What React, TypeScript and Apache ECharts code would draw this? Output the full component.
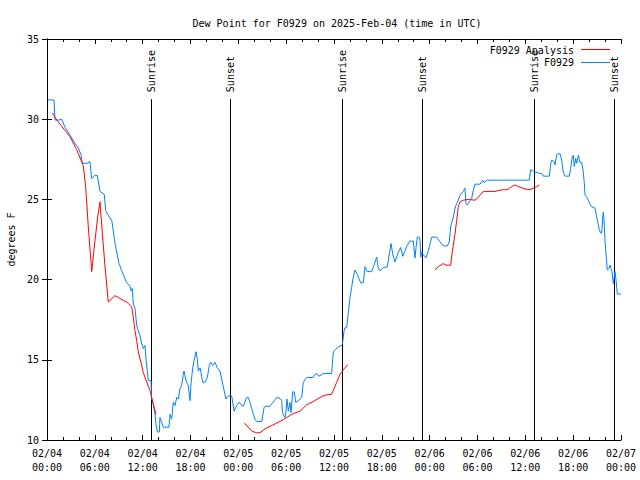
import React, { useEffect, useRef } from "react";
import * as echarts from "echarts";

const TITLE = "Dew Point for F0929 on 2025-Feb-04 (time in UTC)";
const Y_NAME = "degrees F";
const DAY_LABELS = ["02/04", "02/05", "02/06", "02/07"];

// F0929 observations: hours since 02/04 00:00 UTC, dew point (F)
const obsHours = [
  0.13, 0.88, 1.0, 1.5, 1.84, 2.26, 2.89, 3.51, 3.93, 4.26, 4.43, 5.02, 5.39, 5.61, 6.02, 6.31, 6.65, 7.19, 7.36, 7.69,
  8.12, 8.53, 9.03, 9.57, 10.0, 10.41, 10.54, 10.7, 10.83, 11.04, 11.25, 11.45, 11.67, 11.88, 12.08, 12.29, 12.42, 12.58, 12.71, 13.05,
  13.13, 13.33, 13.55, 13.67, 13.84, 14.09, 14.17, 14.39, 14.59, 15.3, 15.43, 15.64, 15.84, 16.06, 16.27, 16.47, 16.68, 16.89, 17.1, 17.19,
  17.4, 17.52, 17.72, 17.94, 18.06, 18.28, 18.44, 18.69, 18.85, 18.98, 19.19, 19.32, 19.53, 19.82, 20.11, 20.36, 20.53, 20.79, 21.07, 21.36,
  21.7, 21.91, 22.12, 22.45, 22.74, 23.17, 23.46, 23.8, 24.12, 24.42, 24.62, 25.05, 25.25, 25.46, 25.68, 25.88, 26.09, 26.3, 26.93, 27.22,
  27.35, 27.97, 28.19, 28.51, 28.81, 29.23, 29.44, 29.52, 29.64, 29.85, 29.98, 30.1, 30.27, 30.48, 30.61, 30.82, 31.02, 31.2, 31.52, 31.95,
  32.15, 32.58, 33.4, 33.62, 33.83, 34.03, 34.24, 34.66, 35.71, 35.91, 36.13, 36.54, 36.97, 37.09, 37.26, 37.38, 37.59, 37.79, 38.01, 38.22,
  38.42, 38.63, 38.85, 39.05, 39.35, 39.68, 39.89, 40.18, 40.73, 41.02, 41.36, 41.56, 41.77, 42.19, 42.69, 42.94, 43.15, 43.36, 43.65, 44.07,
  44.37, 44.62, 44.91, 45.2, 45.53, 45.95, 46.16, 46.29, 46.45, 46.7, 46.79, 46.88, 47.0, 47.2, 47.54, 47.83, 48.26, 48.88, 49.3, 49.71,
  50.21, 50.46, 50.64, 50.8, 50.97, 51.18, 51.39, 51.59, 51.81, 52.02, 52.22, 52.43, 52.56, 52.72, 52.97, 53.27, 53.48, 53.69, 54.32, 54.53,
  54.65, 54.82, 55.23, 60.5, 60.67, 61.0, 61.63, 62.05, 62.26, 63.01, 63.18, 63.31, 63.6, 63.72, 63.94, 64.35, 64.56, 64.76, 64.98, 65.52,
  65.69, 65.89, 66.02, 66.14, 66.32, 66.44, 66.65, 66.86, 67.07, 67.27, 67.4, 67.49, 67.7, 67.9, 68.11, 68.33, 68.74, 68.95, 69.15, 69.28,
  69.46, 69.58, 69.71, 69.78, 69.87, 69.99, 70.12, 70.28, 70.5, 70.62, 70.75, 70.87, 71.04, 71.25, 71.38, 71.54, 72.0,
];
const obsValues = [
  31.2, 31.2, 29.95, 29.95, 30.0, 29.5, 29.0, 28.5, 28.2, 27.8, 27.25, 27.25, 27.35, 26.3, 26.5, 26.5, 25.5, 25.3, 24.3, 24.0,
  23.7, 22.25, 21.0, 20.3, 19.8, 19.6, 19.3, 19.45, 18.5, 18.2, 17.15, 16.8, 16.5, 16.0, 15.7, 15.9, 15.06, 14.3, 13.7, 13.7,
  12.56, 12.25, 11.6, 11.0, 10.5, 10.5, 11.4, 11.1, 10.8, 10.8, 11.6, 11.3, 12.35, 12.15, 12.65, 12.55, 13.2, 13.4, 14.1, 14.3,
  13.8, 13.6, 13.4, 12.45, 13.5, 14.5, 14.95, 15.5, 15.05, 14.3, 14.5, 14.2, 13.6, 13.6, 13.9, 14.65, 14.85, 14.65, 14.85, 14.5,
  14.3, 13.8, 13.3, 12.55, 12.75, 12.75, 11.8, 12.15, 12.35, 12.15, 12.1, 12.65, 12.65, 12.35, 11.95, 11.6, 11.3, 11.15, 11.15, 12.0,
  12.1, 12.1, 12.25, 12.45, 12.65, 12.6, 12.45, 11.8, 11.55, 11.4, 11.8, 12.55, 11.8, 12.35, 11.7, 13.0, 13.0, 12.35, 12.45, 12.65,
  13.6, 13.9, 13.9, 14.1, 14.15, 14.0, 14.0, 14.15, 14.15, 15.5, 15.6, 15.8, 15.9, 16.1, 16.8, 17.0, 17.0, 17.9, 18.9, 19.55,
  20.15, 20.6, 20.4, 20.15, 19.8, 19.8, 20.8, 20.5, 20.5, 20.9, 21.4, 20.7, 20.55, 20.75, 20.8, 21.6, 22.25, 21.6, 21.1, 21.7,
  22.0, 21.45, 21.8, 22.15, 22.4, 22.4, 21.35, 22.0, 22.65, 22.65, 22.45, 21.4, 21.7, 21.55, 21.35, 21.8, 22.65, 22.65, 22.35, 22.1,
  22.1, 22.35, 23.3, 23.6, 23.9, 24.45, 24.75, 24.95, 25.25, 25.4, 25.5, 25.7, 24.75, 24.65, 24.85, 25.05, 25.6, 25.95, 25.95, 26.1,
  26.2, 26.05, 26.2, 26.2, 26.85, 26.75, 26.65, 26.6, 26.45, 26.45, 27.2, 27.45, 27.35, 27.15, 27.8, 27.85, 27.45, 26.7, 26.45, 26.45,
  26.95, 27.65, 27.75, 27.05, 27.55, 27.25, 27.75, 27.3, 27.3, 26.7, 26.0, 25.25, 25.15, 24.95, 24.7, 24.55, 24.45, 23.9, 23.4, 23.1,
  22.9, 22.9, 23.9, 24.2, 23.7, 22.45, 21.6, 20.6, 20.7, 20.9, 20.7, 20.5, 19.75, 20.5, 19.95, 19.1, 19.1,
];

// F0929 Analysis (null = gap)
const anaHours = [
  0.66, 1.22, 2.26, 2.89, 3.73, 4.55, 4.85, 5.18, 5.61, 6.02, 6.36, 6.65, 6.94, 7.28, 7.69, 8.53, 9.57, 10.0, 10.62, 10.83,
  11.04, 11.25, 11.45, 11.67, 11.88, 12.08, 12.51, 12.92, 13.13, 13.33, 13.67, 19.0,
  24.75, 25.25, 25.68, 26.3, 26.72, 27.35, 28.19, 29.01, 30.07, 30.7, 31.74, 32.58, 33.4, 34.24, 34.87, 35.71, 36.34, 36.75, 37.29, 37.72, 43.0,
  48.67, 49.08, 49.71, 50.05, 50.64, 50.8, 51.18, 51.39, 51.59, 51.81, 52.22, 52.85, 53.69, 54.32, 54.73, 56.2, 57.04, 57.74, 58.29, 58.71,
  59.12, 59.96, 60.59, 61.0, 61.43, 61.75,
];
const anaValues = [
  30.4, 29.95, 29.3, 28.9, 28.1, 27.1, 25.8, 23.3, 20.5, 22.45, 23.9, 24.85, 22.9, 20.8, 18.6, 19.0, 18.7, 18.6, 18.3, 17.65,
  16.8, 16.2, 15.5, 15.05, 14.65, 14.2, 13.6, 13.1, 12.65, 12.25, 11.6, null,
  11.05, 10.8, 10.55, 10.45, 10.45, 10.7, 10.9, 11.1, 11.4, 11.6, 11.8, 12.2, 12.4, 12.65, 12.8, 12.85, 13.6, 14.1, 14.45, 14.7, null,
  20.6, 20.8, 21.0, 20.9, 20.9, 21.6, 22.85, 23.7, 24.55, 24.85, 24.95, 25.0, 24.95, 25.25, 25.5, 25.5, 25.6, 25.6, 25.8, 25.9,
  25.8, 25.65, 25.6, 25.7, 25.8, 25.9,
];

const sunHours = [13.08, 23.0, 37.04, 47.08, 61.13, 71.16];
const sunLabels = ["Sunrise", "Sunset", "Sunrise", "Sunset", "Sunrise", "Sunset"];
const SUN_LINE_TOP = 31.25;

const legendNames = ["F0929 Analysis", "F0929"];
const RED = "#ff0000";
const BLUE = "#0080ff";
const FONT = "DejaVu Sans Mono";

export default function App() {
  const ref = useRef<HTMLDivElement>(null);
  useEffect(() => {
    document.body.style.margin = "0";
    const chart = echarts.init(ref.current!, null, { renderer: "svg" });
    const obsData = obsHours.map((h, i) => [h, obsValues[i]]);
    const anaData = anaHours.map((h, i) => [h, anaValues[i] === null ? "-" : anaValues[i]]);
    const axisLine = { show: true, lineStyle: { color: "#000", width: 1 } };
    const xFmt = (v: number) => {
      const d = Math.floor(v / 24);
      const hh = v - d * 24;
      return DAY_LABELS[d] + "\n" + String(hh).padStart(2, "0") + ":00";
    };
    const xBase = {
      type: "value",
      min: 0,
      max: 72,
      interval: 6,
      axisLine,
      axisTick: { show: true, inside: true, length: 5, lineStyle: { color: "#000" } },
      minorTick: { show: true, splitNumber: 3, length: 3, lineStyle: { color: "#000" } },
      splitLine: { show: false },
      minorSplitLine: { show: false },
    };
    const yBase = {
      type: "value",
      min: 10,
      max: 35,
      interval: 5,
      axisLine,
      axisTick: { show: true, inside: true, length: 5, lineStyle: { color: "#000" } },
      splitLine: { show: false },
    };
    chart.setOption({
      animation: false,
      backgroundColor: "#ffffff",
      textStyle: { fontFamily: FONT },
      title: {
        text: TITLE,
        left: 332,
        top: 13,
        textAlign: "center",
        textStyle: { fontSize: 10, fontWeight: "normal", color: "#000", fontFamily: FONT },
      },
      grid: { left: 47, right: 19, top: 39, bottom: 40, containLabel: false, outerBoundsMode: "none" },
      xAxis: [
        {
          ...xBase,
          position: "bottom",
          axisLabel: {
            show: true,
            formatter: xFmt,
            color: "#000",
            fontSize: 10,
            fontFamily: FONT,
            lineHeight: 14,
            margin: 6,
            showMinLabel: true,
            showMaxLabel: true,
            hideOverlap: false,
          },
        },
        { ...xBase, position: "top", axisLabel: { show: false } },
      ],
      yAxis: [
        {
          ...yBase,
          position: "left",
          name: Y_NAME,
          nameLocation: "middle",
          nameGap: 31,
          nameRotate: 90,
          nameTextStyle: { color: "#000", fontSize: 10, fontFamily: FONT },
          axisLabel: { show: true, color: "#000", fontSize: 10, fontFamily: FONT, margin: 8 },
        },
        { ...yBase, position: "right", axisLabel: { show: false } },
      ],
      series: [
        {
          name: "sun",
          type: "custom",
          xAxisIndex: 0,
          yAxisIndex: 0,
          clip: false,
          silent: true,
          z: 1,
          data: sunHours.map((h) => [h, SUN_LINE_TOP]),
          encode: { x: 0, y: 1 },
          renderItem: (params: any, api: any) => {
            const h = api.value(0);
            const top = api.coord([h, api.value(1)]);
            const bottom = api.coord([h, 10]);
            const x = Math.round(top[0]) + 0.5;
            return {
              type: "group",
              children: [
                {
                  type: "line",
                  shape: { x1: x, y1: top[1], x2: x, y2: bottom[1] },
                  style: { stroke: "#000", lineWidth: 1 },
                },
                {
                  type: "text",
                  x: x,
                  y: top[1] - 7,
                  rotation: Math.PI / 2,
                  style: {
                    text: sunLabels[params.dataIndex],
                    fill: "#000",
                    font: `10px "${FONT}"`,
                    align: "left",
                    verticalAlign: "middle",
                  },
                },
              ],
            };
          },
        },
        {
          name: legendNames[0],
          type: "line",
          data: anaData,
          showSymbol: false,
          symbol: "none",
          connectNulls: false,
          lineStyle: { color: RED, width: 1 },
          itemStyle: { color: RED },
          z: 3,
        },
        {
          name: legendNames[1],
          type: "line",
          data: obsData,
          showSymbol: false,
          symbol: "none",
          lineStyle: { color: BLUE, width: 1 },
          itemStyle: { color: BLUE },
          z: 2,
        },
      ],
      graphic: [
        {
          type: "text",
          x: 574,
          y: 50,
          style: { text: legendNames[0], fill: "#000", font: `10px "${FONT}"`, align: "right", verticalAlign: "middle" },
        },
        { type: "line", shape: { x1: 581, y1: 49.5, x2: 610, y2: 49.5 }, style: { stroke: RED, lineWidth: 1 } },
        {
          type: "text",
          x: 574,
          y: 62,
          style: { text: legendNames[1], fill: "#000", font: `10px "${FONT}"`, align: "right", verticalAlign: "middle" },
        },
        { type: "line", shape: { x1: 581, y1: 62.5, x2: 610, y2: 62.5 }, style: { stroke: BLUE, lineWidth: 1 } },
      ],
    });
    return () => chart.dispose();
  }, []);
  return <div ref={ref} style={{ position: "absolute", left: 0, top: 0, width: 640, height: 480 }} />;
}
